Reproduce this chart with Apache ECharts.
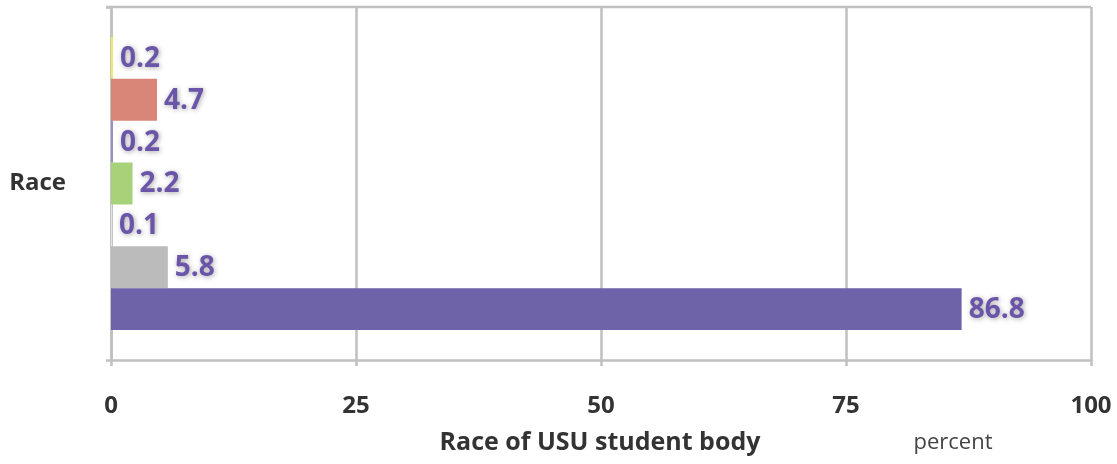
<!DOCTYPE html>
<html>
<head>
<meta charset="utf-8">
<script src="https://cdn.jsdelivr.net/npm/echarts@6/dist/echarts.min.js"></script>
<style>html,body{margin:0;padding:0;background:#fff;}#c{width:1117px;height:464px;}</style>
</head>
<body>
<div id="c"></div>
<script>
// Data (top to bottom order in the chart)
const categories = ['Race'];
const seriesNames = ['S1', 'S2', 'S3', 'S4', 'S5', 'S6', 'S7'];
const seriesValues = [0.2, 4.7, 0.2, 2.2, 0.1, 5.8, 86.8];
const seriesColors = ['#EEEE66', '#D98577', '#9C8CC8', '#A8D27A', '#E6E2F0', '#BBBBBB', '#6E63A9'];
const xTicks = [0, 25, 50, 75, 100];

const chart = echarts.init(document.getElementById('c'));
const font = '"Open Sans", "DejaVu Sans", sans-serif';
const gridColor = '#BEC1C0';

const series = seriesValues.map((v, i) => ({
  name: seriesNames[i],
  type: 'bar',
  data: [v],
  barGap: '0%',
  barCategoryGap: '17%',
  itemStyle: { color: seriesColors[i] },
  label: {
    show: true,
    position: 'right',
    distance: 7,
    offset: [0, 1],
    color: '#6B55A9',
    fontFamily: font,
    fontWeight: 'bold',
    fontSize: 28,
    textShadowColor: 'rgba(60,60,60,0.45)',
    textShadowBlur: 5,
    textShadowOffsetX: 1,
    textShadowOffsetY: 1
  }
}));

chart.setOption({
  animation: false,
  grid: { left: 111, right: 26, top: 7, bottom: 104, containLabel: false },
  xAxis: {
    type: 'value',
    min: xTicks[0],
    max: xTicks[xTicks.length - 1],
    interval: 25,
    axisLine: { show: true, lineStyle: { color: gridColor, width: 2.5 } },
    axisTick: { show: true, length: 6, lineStyle: { color: gridColor, width: 2.5 } },
    splitLine: { show: true, lineStyle: { color: gridColor, width: 2.5 } },
    axisLabel: {
      margin: 34,
      color: '#333333',
      fontFamily: font,
      fontWeight: 'bold',
      fontSize: 24
    }
  },
  yAxis: {
    type: 'category',
    data: categories,
    axisLine: { show: true, lineStyle: { color: gridColor, width: 2.5 } },
    axisTick: { show: true, length: 5, lineStyle: { color: gridColor, width: 2.5 } },
    splitLine: { show: false },
    axisLabel: {
      margin: 45,
      color: '#333333',
      fontFamily: font,
      fontWeight: 'bold',
      fontSize: 24
    }
  },
  graphic: [
    { type: 'line', shape: { x1: 106, y1: 7, x2: 1091, y2: 7 }, style: { stroke: gridColor, lineWidth: 2.5 } },
    { type: 'text', x: 600, y: 443, style: { text: 'Race of USU student body', font: 'bold 25px ' + font, fill: '#333333', align: 'center', verticalAlign: 'middle' } },
    { type: 'text', x: 953, y: 443, style: { text: 'percent', font: '22px ' + font, fill: '#444444', align: 'center', verticalAlign: 'middle' } }
  ],
  series: series
});
</script>
</body>
</html>
